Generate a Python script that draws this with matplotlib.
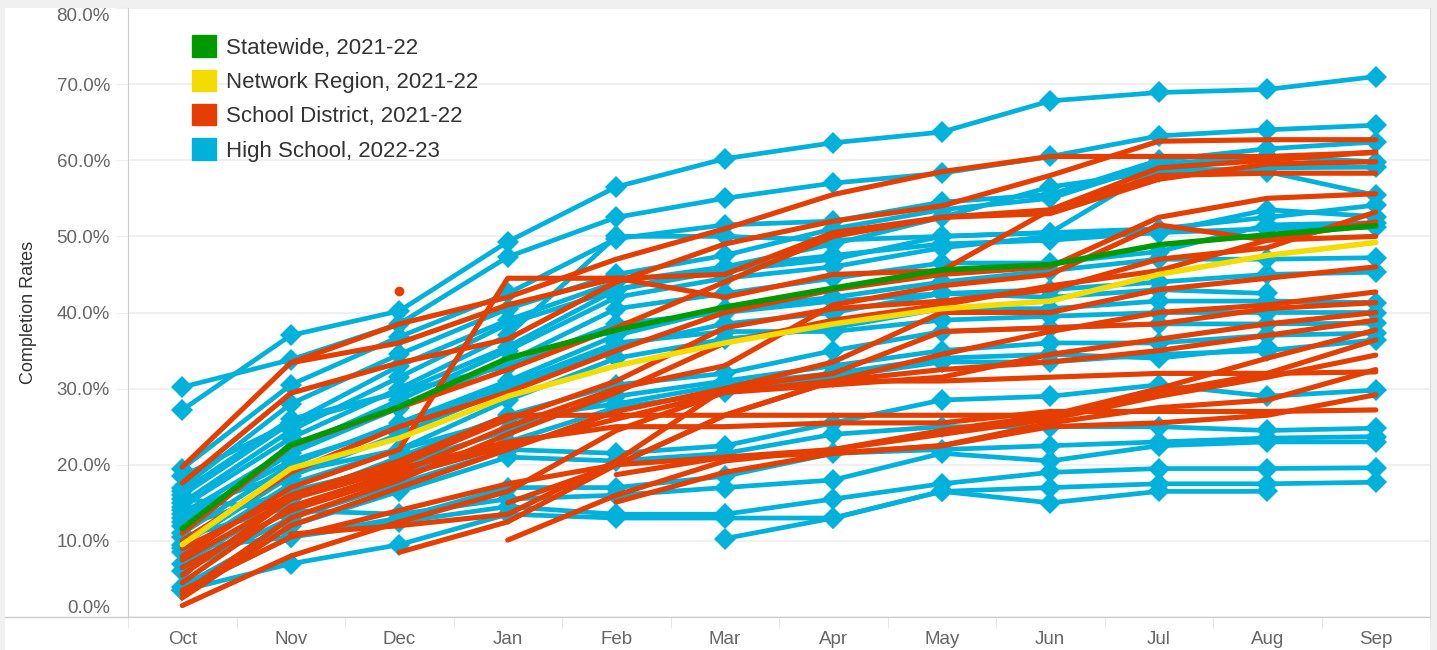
import numpy as np
import matplotlib
matplotlib.use("Agg")
import matplotlib.pyplot as plt
import matplotlib.patches as mpatches
from matplotlib.lines import Line2D

nan = np.nan
months = ["Oct", "Nov", "Dec", "Jan", "Feb", "Mar", "Apr", "May", "Jun", "Jul", "Aug", "Sep"]

statewide = [11.6, 22.6, 27.6, 34.0, 37.7, 40.7, 43.2, 45.6, 46.3, 48.9, 50.2, 51.4]
network = [9.5, 19.5, 23.5, 29.0, 33.0, 36.0, 38.5, 40.5, 41.5, 45.0, 47.5, 49.2]

# high school lines, 2022-23
high_school = [
    [27.2, 37.0, 40.2, 49.3, 56.5, 60.2, 62.3, 63.7, 67.8, 68.9, 69.3, 71.0],
    [30.2, 33.8, 38.5, 47.3, 52.5, 55.0, 57.0, 58.3, 60.5, 63.2, 64.0, 64.6],
    [19.5, 30.5, 36.8, 42.5, 49.7, 51.5, 52.0, 54.5, 55.5, 60.0, 61.5, 62.4],
    [17.0, 28.0, 34.5, 40.5, 45.0, 47.5, 51.0, 53.5, 55.0, 59.5, 60.5, 59.8],
    [16.0, 25.5, 33.0, 39.0, 44.0, 46.0, 49.0, 52.5, 56.5, 58.5, 59.0, 59.1],
    [15.0, 24.5, 31.5, 38.5, 43.0, 45.5, 47.0, 50.0, 50.5, 59.0, 58.5, 55.4],
    [14.5, 23.5, 30.0, 37.0, 50.0, 50.0, 49.5, 50.0, 50.5, 51.0, 52.5, 54.1],
    [13.5, 22.0, 28.5, 35.0, 42.0, 44.5, 46.0, 48.5, 50.0, 50.5, 53.5, 52.6],
    [12.5, 21.5, 27.5, 33.5, 40.5, 42.5, 44.5, 46.5, 46.5, 48.0, 51.5, 51.8],
    [18.5, 25.5, 29.5, 35.5, 43.0, 46.0, 47.5, 49.0, 49.5, 50.5, 51.0, 51.2],
    [11.0, 20.0, 25.5, 31.0, 37.0, 40.5, 42.0, 44.0, 45.5, 47.0, 47.0, 47.2],
    [9.5, 18.5, 24.0, 30.0, 35.5, 38.5, 40.0, 42.5, 43.0, 44.0, 45.0, 45.3],
    [8.5, 17.5, 22.0, 28.5, 34.0, 36.5, 38.0, 40.5, 40.5, 41.5, 41.5, 41.3],
    [13.0, 20.5, 25.0, 30.5, 36.0, 37.5, 37.5, 39.0, 39.5, 40.0, 40.0, 40.0],
    [7.0, 15.5, 21.0, 26.5, 30.5, 32.0, 35.0, 37.5, 38.0, 38.5, 38.5, 38.6],
    [12.0, 16.5, 20.0, 24.5, 29.0, 31.0, 33.0, 35.0, 36.0, 36.0, 37.0, 37.3],
    [10.5, 14.5, 19.0, 23.0, 27.5, 29.5, 31.5, 33.5, 33.5, 34.5, 35.0, 36.4],
    [6.0, 13.0, 17.5, 22.0, 21.5, 22.5, 25.5, 28.5, 29.0, 30.5, 29.0, 29.8],
    [4.0, 12.0, 16.5, 21.0, 20.5, 21.5, 24.0, 25.0, 25.0, 25.0, 24.5, 24.8],
    [3.5, 10.5, 13.0, 17.0, 17.0, 18.5, 21.5, 22.0, 22.5, 23.0, 23.5, 23.7],
    [15.5, 14.0, 13.5, 15.5, 16.0, 17.0, 18.0, 21.5, 20.5, 22.5, 23.0, 23.0],
    [9.0, 10.5, 12.5, 14.5, 13.5, 13.5, 15.5, 17.5, 19.0, 19.5, 19.5, 19.6],
    [3.5, 7.0, 9.5, 13.5, 13.0, 13.0, 13.0, 16.5, 17.0, 17.5, 17.5, 17.7],
    [nan, nan, nan, nan, nan, 10.3, 13.0, 16.5, 15.0, 16.5, 16.5, nan],
    [14.0, 19.0, 22.0, 26.0, 28.0, 30.5, 32.0, 34.0, 34.5, 34.0, 35.5, nan],
    [16.5, 26.0, 29.5, 33.0, 38.5, 40.0, 41.5, 42.5, 42.0, 43.0, 42.5, nan],
]

# school district lines, 2021-22
district = [
    [19.7, 33.4, 38.5, 42.0, 47.0, 51.0, 55.5, 58.5, 60.5, 60.5, 60.5, 61.0],
    [17.6, 29.4, 33.4, 36.5, 44.0, 49.0, 52.0, 54.0, 58.0, 62.5, 62.7, 62.7],
    [nan, 33.4, 36.0, 41.0, 44.5, 45.0, 50.5, 52.5, 53.5, 59.0, 60.0, 61.1],
    [11.0, 22.5, 27.5, 32.5, 38.0, 44.0, 50.0, 52.5, 53.0, 57.5, 59.5, 59.8],
    [8.0, 17.0, 22.0, 44.5, 44.5, 42.0, 45.0, 45.5, 53.5, 58.0, 58.3, 58.3],
    [10.0, 19.0, 25.0, 29.5, 35.0, 40.0, 43.0, 45.0, 46.0, 52.5, 55.0, 55.6],
    [5.5, 15.5, 20.0, 26.0, 31.0, 38.0, 40.5, 41.5, 43.0, 47.0, 48.5, 53.2],
    [4.5, 14.5, 19.0, 25.0, 30.0, 33.0, 41.0, 43.5, 45.0, 51.5, 49.5, 51.9],
    [3.0, 13.0, 18.0, 24.0, 29.5, 36.0, 39.0, 41.0, 43.5, 45.5, 49.5, 50.0],
    [2.5, 12.0, 17.0, 22.0, 27.0, 30.0, 33.5, 40.0, 40.0, 43.0, 44.5, 46.0],
    [nan, nan, 8.5, 12.5, 20.0, 26.5, 31.0, 34.5, 37.5, 40.0, 41.0, 42.7],
    [nan, 10.9, 12.0, 13.5, 20.5, 30.0, 32.0, 37.5, 38.0, 38.5, 40.5, 41.3],
    [1.5, 8.0, 12.5, 16.5, 24.5, 29.5, 30.5, 31.5, 34.5, 36.5, 38.5, 40.0],
    [nan, nan, nan, 15.0, 20.0, 26.5, 31.0, 32.5, 33.5, 35.0, 37.0, 39.0],
    [nan, nan, nan, 10.1, 16.0, 20.5, 22.0, 24.5, 26.5, 30.0, 34.0, 37.7],
    [9.0, 16.0, 20.5, 26.5, 26.5, 26.5, 26.5, 26.5, 26.5, 29.5, 32.0, 36.4],
    [nan, nan, nan, nan, 18.7, 21.0, 22.0, 24.0, 26.0, 29.0, 31.5, 34.4],
    [nan, nan, nan, nan, 15.1, 19.0, 21.5, 22.5, 25.5, 27.5, 28.5, 32.5],
    [6.5, 14.0, 18.5, 22.5, 26.0, 29.5, 31.0, 31.0, 31.5, 32.0, 32.0, 32.2],
    [3.5, 10.5, 14.0, 17.5, 20.0, 21.0, 21.5, 22.5, 25.0, 25.5, 26.5, 29.2],
    [7.5, 15.5, 19.5, 23.0, 25.0, 25.0, 25.5, 25.5, 27.0, 27.0, 27.0, 27.2],
]
district_dot = [nan, nan, 42.8, nan, nan, nan, nan, nan, nan, nan, nan, nan]

GREEN = "#009a00"
YELLOW = "#f5dc00"
RED = "#e43e00"
BLUE = "#00b1db"

plt.rcParams["font.family"] = ["Liberation Sans", "DejaVu Sans"]

fig = plt.figure(figsize=(14.37, 6.5), dpi=100, facecolor="#f0f0f0")
fig.add_artist(mpatches.Rectangle((5 / 1437, 0), 1425 / 1437, 642 / 650,
                                  transform=fig.transFigure, facecolor="white",
                                  edgecolor="none", zorder=0))
ax = fig.add_axes([128 / 1437, 33 / 650, 1302 / 1437, 609 / 650])
x = np.arange(len(months))

for vals in high_school:
    ax.plot(x, vals, color=BLUE, lw=3.4, marker="D", ms=11, mew=0,
            solid_capstyle="round", zorder=2)
for vals in district:
    ax.plot(x, vals, color=RED, lw=3.7, solid_capstyle="round", zorder=3)
ax.plot(x, district_dot, color=RED, marker="o", ms=7, mew=0, lw=0, zorder=3)
ax.plot(x, network, color=YELLOW, lw=4, solid_capstyle="round", zorder=4)
ax.plot(x, statewide, color=GREEN, lw=4, solid_capstyle="round", zorder=5)

ax.set_xlim(-0.5, len(months) - 0.5)
ax.set_ylim(0, 80)
yt = np.arange(0, 81, 10)
ax.set_yticks(yt)
ax.set_yticklabels([f"{v:.1f}%" for v in yt])
ylabels = ax.get_yticklabels()
ylabels[0].set_va("bottom")
ylabels[-1].set_va("top")
ax.set_xticks(x)
ax.set_xticklabels(months)
ax.set_xticks(np.arange(-0.5, len(months), 1), minor=True)
ax.grid(axis="y", color="#eeeeee", lw=1.2, zorder=0)
ax.tick_params(axis="y", length=9, color="#eeeeee", labelsize=13.5,
               labelcolor="#666666", pad=4)
ax.tick_params(axis="x", which="major", length=0, labelsize=13.5,
               labelcolor="#666666", pad=10)
ax.tick_params(axis="x", which="minor", length=8, color="#e3e3e3")
ax.spines["top"].set_visible(False)
ax.spines["left"].set_color("#cccccc")
ax.spines["bottom"].set_color("#cccccc")
ax.spines["right"].set_color("#dddddd")
fig.add_artist(Line2D([5 / 1437, 128 / 1437], [33 / 650, 33 / 650],
                      transform=fig.transFigure, color="#cccccc", lw=1))
ax.set_ylabel("Completion Rates", fontsize=13, color="#333333", labelpad=14)

handles = [
    mpatches.Patch(color=GREEN, label="Statewide, 2021-22"),
    mpatches.Patch(color=YELLOW, label="Network Region, 2021-22"),
    mpatches.Patch(color=RED, label="School District, 2021-22"),
    mpatches.Patch(color=BLUE, label="High School, 2022-23"),
]
leg = ax.legend(handles=handles, loc="upper left", bbox_to_anchor=(0.049, 0.955),
                frameon=False, fontsize=16, handlelength=1.1, handleheight=1.1,
                handletextpad=0.45, labelspacing=0.5, borderpad=0, borderaxespad=0)
for t in leg.get_texts():
    t.set_color("#333333")

plt.savefig("out.png", dpi=100, facecolor=fig.get_facecolor())
